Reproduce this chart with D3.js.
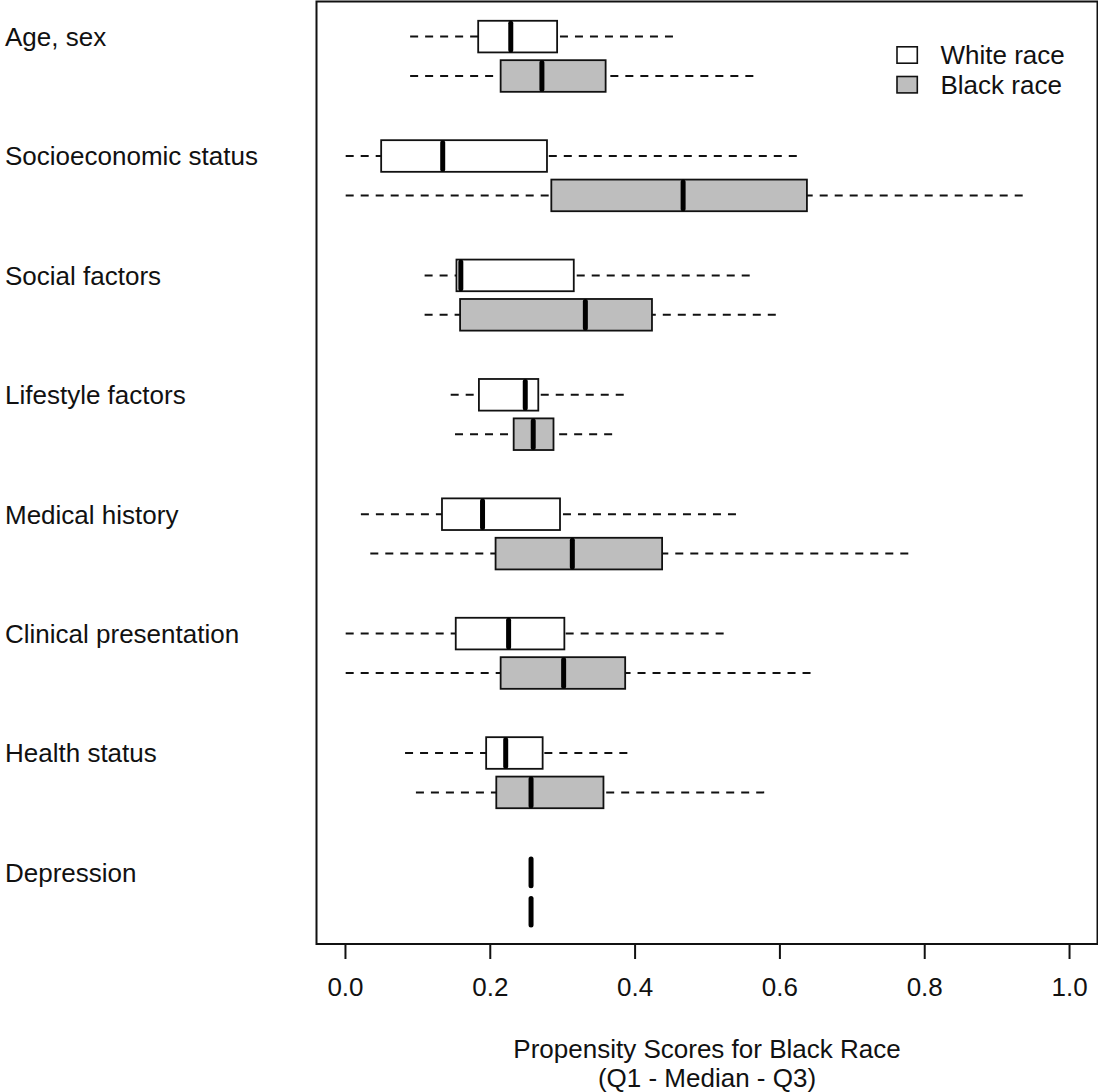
<!DOCTYPE html>
<html>
<head>
<meta charset="utf-8">
<script src="https://cdn.jsdelivr.net/npm/d3@7"></script>
<style>
  html, body { margin: 0; padding: 0; background: #ffffff; }
  svg { display: block; font-family: "Liberation Sans", Arial, sans-serif; }
</style>
</head>
<body>
<svg id="chart" width="1098" height="1092"></svg>
<script>
// Covariate groups, top to bottom
const groups = [
  "Age, sex",
  "Socioeconomic status",
  "Social factors",
  "Lifestyle factors",
  "Medical history",
  "Clinical presentation",
  "Health status",
  "Depression"
];

// Five-number summaries per group: [lower whisker, Q1, median, Q3, upper whisker]
const whiteRace = [
  [0.090, 0.184, 0.229, 0.293, 0.453],
  [0.001, 0.050, 0.135, 0.279, 0.624],
  [0.110, 0.154, 0.160, 0.316, 0.559],
  [0.146, 0.185, 0.249, 0.267, 0.385],
  [0.022, 0.134, 0.190, 0.297, 0.540],
  [0.001, 0.153, 0.226, 0.303, 0.523],
  [0.083, 0.195, 0.222, 0.273, 0.390],
  [0.257, 0.257, 0.257, 0.257, 0.257]
];

const blackRace = [
  [0.090, 0.215, 0.272, 0.360, 0.564],
  [0.001, 0.285, 0.467, 0.638, 0.936],
  [0.110, 0.159, 0.332, 0.424, 0.595],
  [0.152, 0.233, 0.260, 0.288, 0.369],
  [0.035, 0.208, 0.314, 0.438, 0.778],
  [0.001, 0.215, 0.302, 0.387, 0.643],
  [0.098, 0.209, 0.257, 0.357, 0.579],
  [0.257, 0.257, 0.257, 0.257, 0.257]
];

const xTicks = [0.0, 0.2, 0.4, 0.6, 0.8, 1.0];
const seriesNames = ["White race", "Black race"];
const seriesFills = ["#ffffff", "#bebebe"];

const svg = d3.select("#chart");
const FONT = 26;

const plot = { left: 316.5, right: 1097.5, top: 1.5, bottom: 944 };

const x = d3.scaleLinear().domain([-0.04, 1.04]).range([316, 1098]);
// group index -> vertical centre of the pair
const y = d3.scaleLinear().domain([0, 7]).range([56.3, 892.1]);
const pairOffset = 0.165;   // in group units
const boxHalf = 0.1325;     // in group units

const series = [
  { name: seriesNames[0], data: whiteRace, fill: seriesFills[0], off: -pairOffset },
  { name: seriesNames[1], data: blackRace, fill: seriesFills[1], off: pairOffset }
];

// boxes
series.forEach(s => {
  const g = svg.append("g");
  s.data.forEach((d, i) => {
    const cy = y(i + s.off);
    const y0 = y(i + s.off - boxHalf);
    const y1 = y(i + s.off + boxHalf);
    const [lo, q1, med, q3, hi] = d;
    // whiskers, drawn from the whisker end toward the box
    if (q1 > lo) {
      g.append("line")
        .attr("x1", x(lo)).attr("x2", x(q1)).attr("y1", cy).attr("y2", cy)
        .attr("stroke", "#111").attr("stroke-width", 2)
        .attr("stroke-dasharray", "8,7");
    }
    if (hi > q3) {
      g.append("line")
        .attr("x1", x(hi)).attr("x2", x(q3)).attr("y1", cy).attr("y2", cy)
        .attr("stroke", "#111").attr("stroke-width", 2)
        .attr("stroke-dasharray", "8,7");
    }
    if (q3 > q1) {
      g.append("rect")
        .attr("x", x(q1)).attr("y", y0)
        .attr("width", x(q3) - x(q1)).attr("height", y1 - y0)
        .attr("fill", s.fill).attr("stroke", "#111").attr("stroke-width", 1.8);
    }
    g.append("line")
      .attr("x1", x(med)).attr("x2", x(med))
      .attr("y1", y0 + 2.5).attr("y2", y1 - 2.5)
      .attr("stroke", "#000").attr("stroke-width", 5)
      .attr("stroke-linecap", "round");
  });
});

// frame
svg.append("rect")
  .attr("x", plot.left).attr("y", plot.top)
  .attr("width", plot.right - plot.left).attr("height", plot.bottom - plot.top)
  .attr("fill", "none").attr("stroke", "#111").attr("stroke-width", 2);

// x axis
const axis = svg.append("g").attr("transform", `translate(0,${plot.bottom})`)
  .call(d3.axisBottom(x).tickValues(xTicks).tickFormat(d3.format(".1f"))
    .tickSizeInner(15).tickSizeOuter(0).tickPadding(0));
axis.select(".domain")
  .attr("d", `M${x(xTicks[0])},0H${x(xTicks[xTicks.length - 1])}`)
  .attr("stroke", "#111").attr("stroke-width", 2);
axis.selectAll(".tick line").attr("stroke", "#111").attr("stroke-width", 2);
axis.selectAll(".tick text")
  .attr("y", 52).attr("dy", 0)
  .attr("font-size", FONT).attr("fill", "#111")
  .attr("font-family", "Liberation Sans, Arial, sans-serif");

// axis title
const cx = (plot.left + plot.right) / 2;
svg.append("text").attr("x", cx).attr("y", 1058)
  .attr("text-anchor", "middle").attr("font-size", FONT).attr("fill", "#111")
  .text("Propensity Scores for Black Race");
svg.append("text").attr("x", cx).attr("y", 1087)
  .attr("text-anchor", "middle").attr("font-size", FONT).attr("fill", "#111")
  .text("(Q1 - Median - Q3)");

// group labels, aligned with the upper box of each pair
svg.append("g").selectAll("text").data(groups).join("text")
  .attr("x", 5)
  .attr("y", (d, i) => y(i - pairOffset))
  .attr("dy", "0.36em")
  .attr("font-size", FONT).attr("fill", "#111")
  .text(d => d);

// legend
const legend = svg.append("g");
series.forEach((s, k) => {
  const ly = 55 + k * 29.7;
  legend.append("rect")
    .attr("x", 897).attr("y", ly - 8.2).attr("width", 20.3).attr("height", 16.4)
    .attr("fill", s.fill).attr("stroke", "#111").attr("stroke-width", 1.6);
  legend.append("text")
    .attr("x", 940.5).attr("y", ly).attr("dy", "0.36em")
    .attr("font-size", FONT).attr("fill", "#111")
    .text(s.name);
});
</script>
</body>
</html>
